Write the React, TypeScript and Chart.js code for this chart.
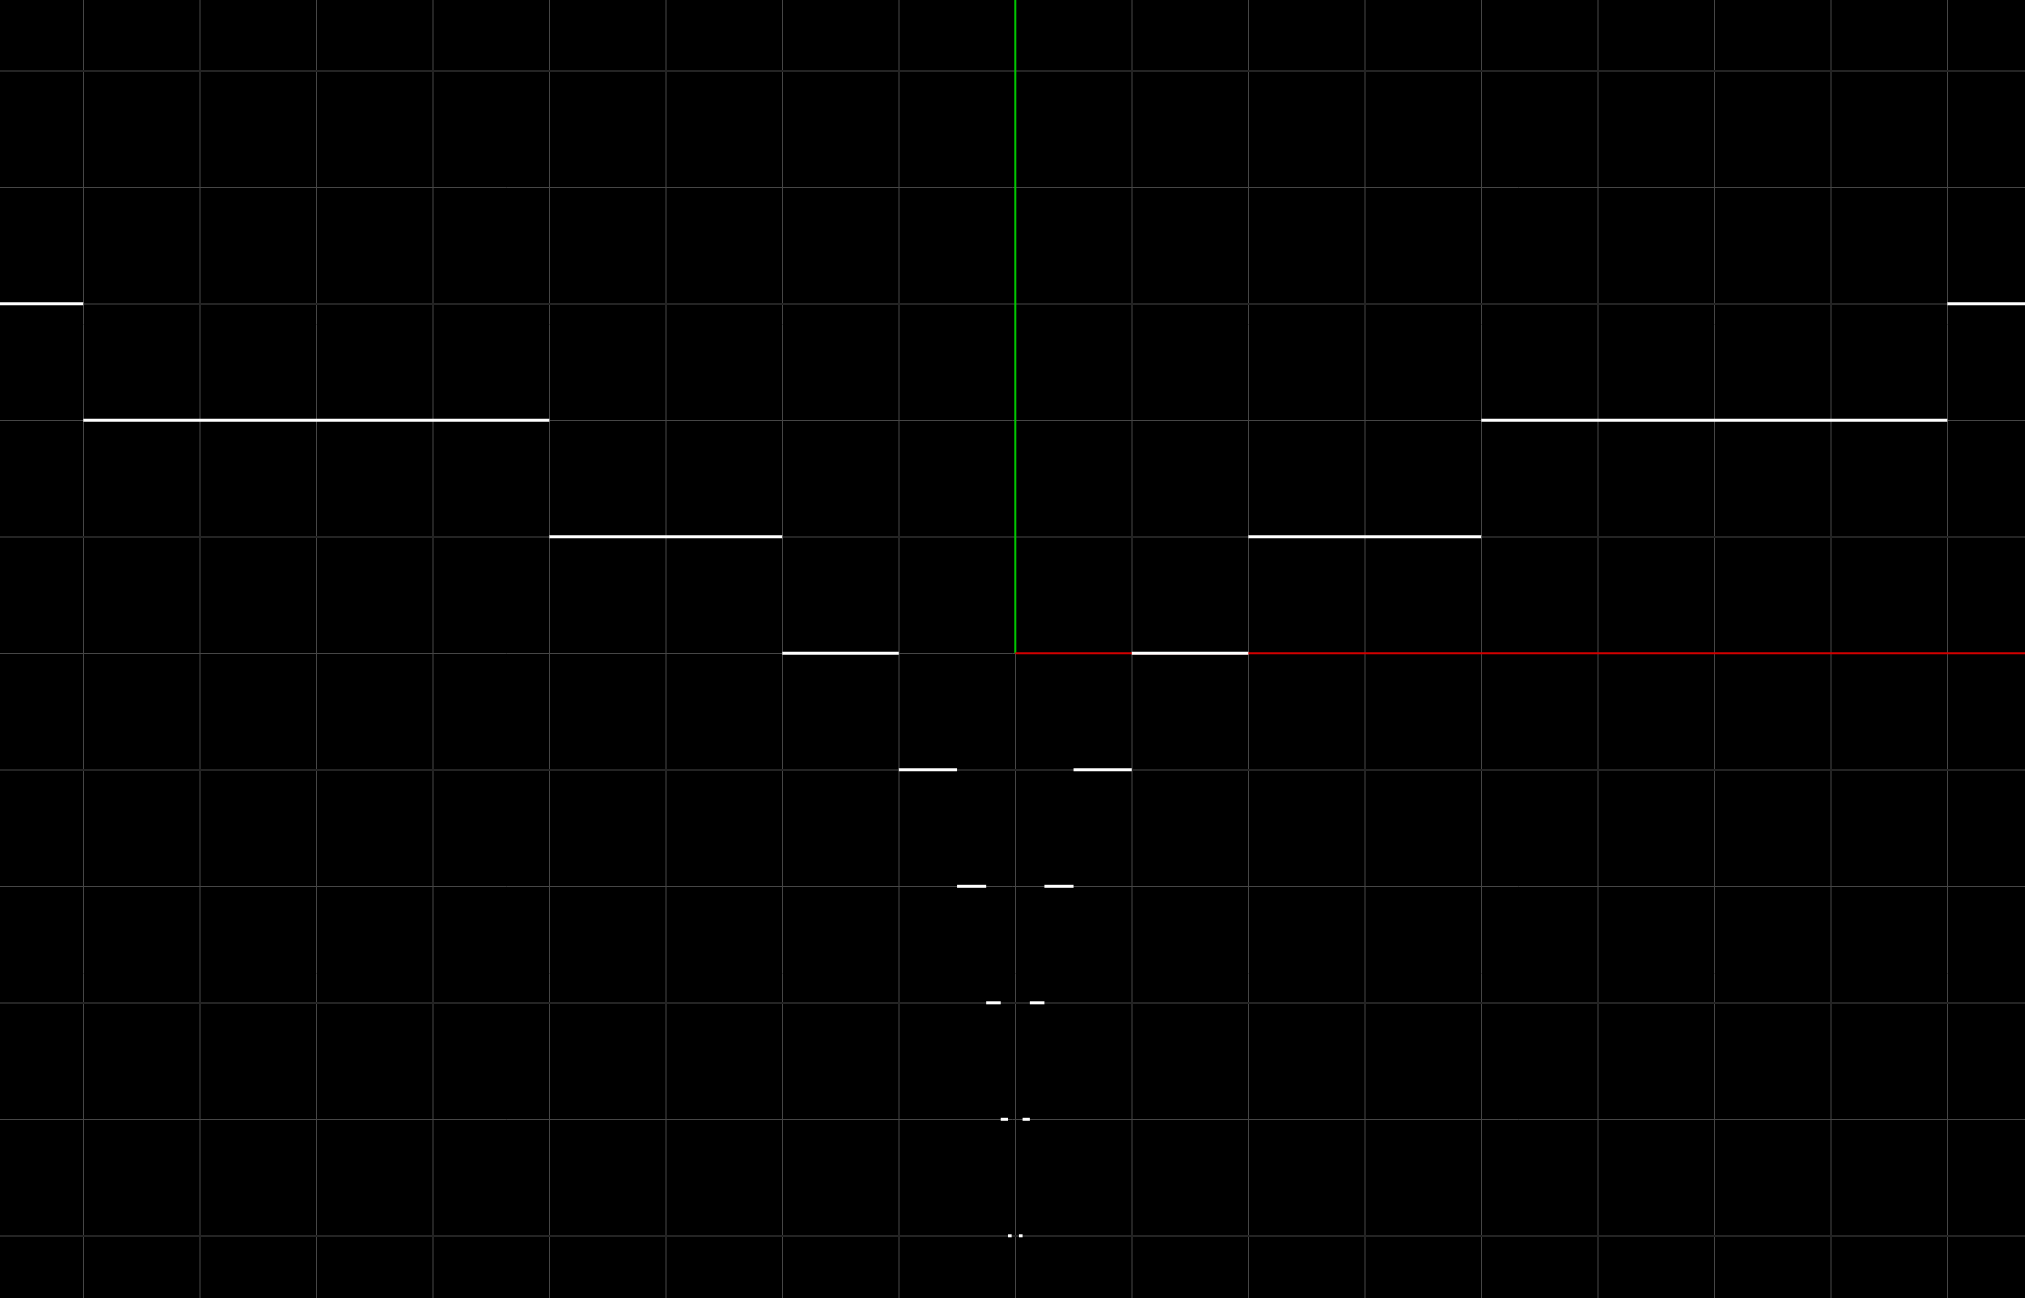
import React, { useEffect, useRef } from "react";
import { Chart, registerables } from "chart.js";

Chart.register(...registerables);

// Step levels (floor of log2|x|) and the |x| interval for each level
const stepLevels = [3, 2, 1, 0, -1, -2, -3, -4, -5];
const stepStarts = [8, 4, 2, 1, 0.5, 0.25, 0.125, 0.0625, 0.03125];
const stepEnds = [16, 8, 4, 2, 1, 0.5, 0.25, 0.125, 0.0625];

// Axis range
const xMin = -8.715;
const xMax = 8.667;
const yMin = -5.534;
const yMax = 5.608;

const BG = "#000000";

const bgPlugin = {
  id: "bg",
  beforeDraw(chart: any) {
    const c = chart.ctx;
    c.save();
    c.fillStyle = BG;
    c.fillRect(0, 0, chart.width, chart.height);
    c.restore();
  },
};

function integerTicks(scale: any) {
  const t: any[] = [];
  for (let v = Math.ceil(scale.min); v <= Math.floor(scale.max); v++) t.push({ value: v });
  scale.ticks = t;
}

const gridColor = (ctx: any) =>
  Math.abs(ctx.tick.value) % 2 === 0 ? "rgb(70,70,70)" : "rgb(36,36,36)";
const gridWidth = (ctx: any) => (Math.abs(ctx.tick.value) % 2 === 0 ? 1 : 2);

export default function App() {
  const ref = useRef<HTMLCanvasElement>(null);

  useEffect(() => {
    if (!ref.current) return;
    const datasets: any[] = [];
    stepLevels.forEach((lvl, i) => {
      const a = stepStarts[i];
      const b = stepEnds[i];
      datasets.push({
        data: [
          { x: a, y: lvl },
          { x: b, y: lvl },
        ],
        borderColor: "#ffffff",
        borderWidth: 3,
        pointRadius: 0,
        order: 0,
      });
      datasets.push({
        data: [
          { x: -b, y: lvl },
          { x: -a, y: lvl },
        ],
        borderColor: "#ffffff",
        borderWidth: 3,
        pointRadius: 0,
        order: 0,
      });
    });
    datasets.push({
      data: [
        { x: 0, y: 0 },
        { x: 20, y: 0 },
      ],
      borderColor: "rgb(210,0,0)",
      borderWidth: 2,
      pointRadius: 0,
      order: 1,
    });
    datasets.push({
      data: [
        { x: 0, y: 0 },
        { x: 0, y: 20 },
      ],
      borderColor: "rgb(0,200,0)",
      borderWidth: 2,
      pointRadius: 0,
      order: 1,
    });

    const chart = new Chart(ref.current, {
      type: "line",
      data: { datasets },
      plugins: [bgPlugin],
      options: {
        animation: false,
        responsive: false,
        devicePixelRatio: 1,
        layout: { padding: 0 },
        plugins: { legend: { display: false }, tooltip: { enabled: false } },
        elements: { line: { tension: 0 } },
        scales: {
          x: {
            type: "linear",
            min: xMin,
            max: xMax,
            afterBuildTicks: integerTicks,
            ticks: { display: false },
            border: { display: false },
            grid: { color: gridColor, lineWidth: gridWidth, drawTicks: false },
          },
          y: {
            type: "linear",
            min: yMin,
            max: yMax,
            afterBuildTicks: integerTicks,
            ticks: { display: false },
            border: { display: false },
            grid: { color: gridColor, lineWidth: gridWidth, drawTicks: false },
          },
        },
      } as any,
    });
    return () => chart.destroy();
  }, []);

  return (
    <div style={{ position: "fixed", left: 0, top: 0, width: 2025, height: 1298, background: BG }}>
      <canvas ref={ref} width={2025} height={1298} style={{ display: "block" }} />
    </div>
  );
}
